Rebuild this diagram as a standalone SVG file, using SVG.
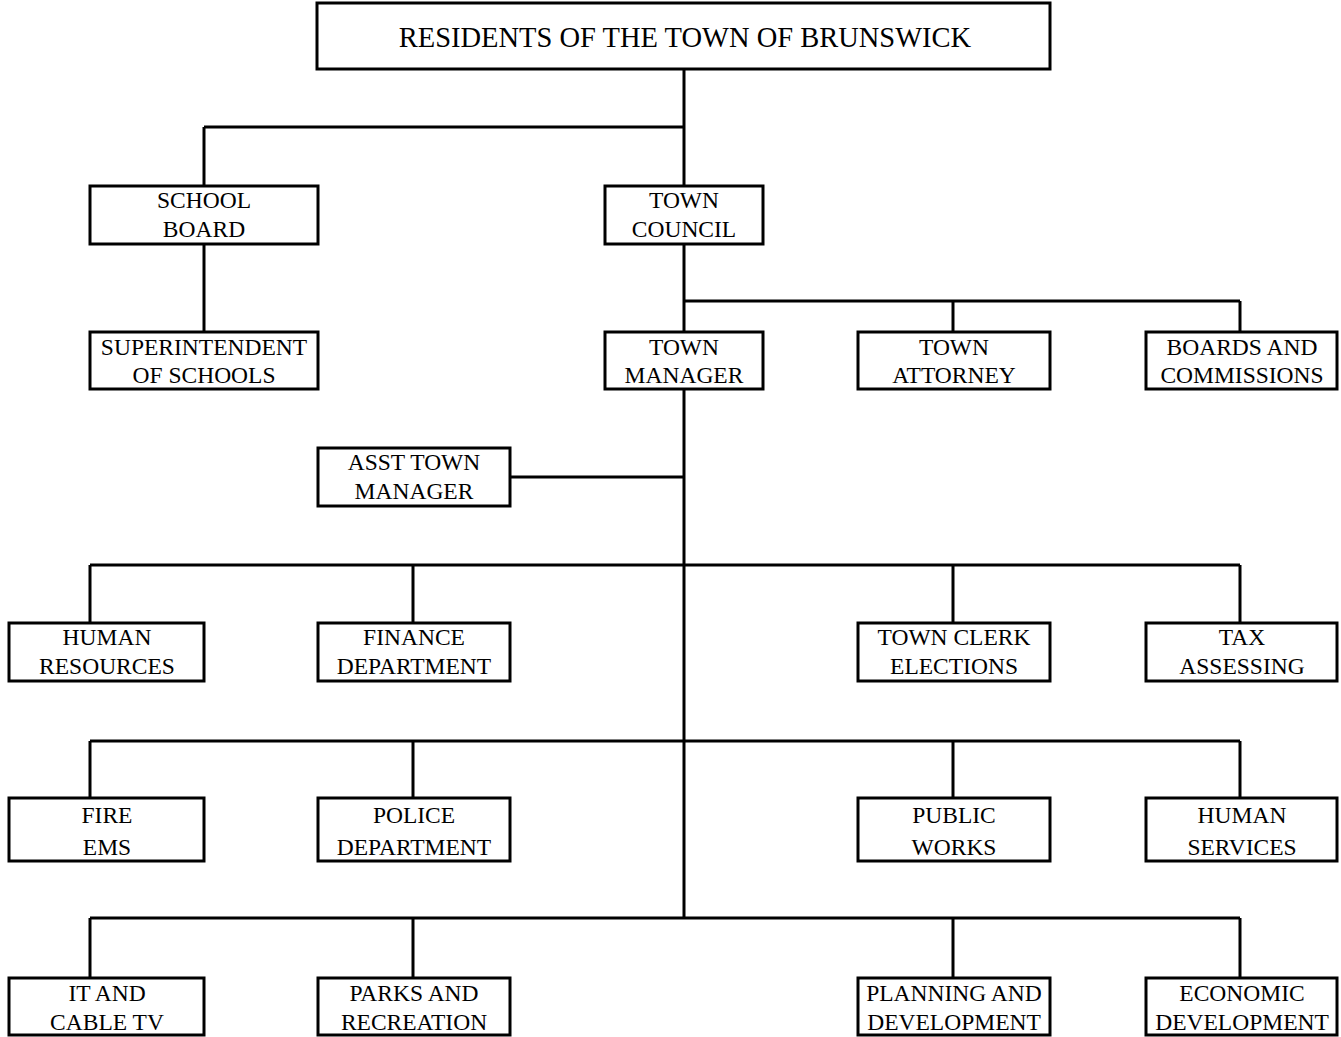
<svg xmlns="http://www.w3.org/2000/svg" width="1341" height="1037" viewBox="0 0 1341 1037">
<style>
.box{fill:#fff;stroke:#000;stroke-width:3}
.ln{fill:none;stroke:#000;stroke-width:3}
text{font-family:"Liberation Serif","Times New Roman",serif;font-size:23.5px;fill:#000;text-anchor:middle}
.title{font-size:28.5px}
</style>
<rect width="1341" height="1037" fill="#fff"/>
<g id="connectors" class="ln">
<path d="M684 69V918"/>
<path d="M204 127H684"/>
<path d="M204 127V186"/>
<path d="M204 244V332"/>
<path d="M684 301H1240"/>
<path d="M953 301V332"/>
<path d="M1240 301V332"/>
<path d="M510 477H684"/>
<path d="M90 565H1240"/>
<path d="M90 565V623M413 565V623M953 565V623M1240 565V623"/>
<path d="M90 741H1240"/>
<path d="M90 741V798M413 741V798M953 741V798M1240 741V798"/>
<path d="M90 918H1240"/>
<path d="M90 918V978M413 918V978M953 918V978M1240 918V978"/>
</g>
<g id="residents"><rect class="box" x="317" y="3" width="733" height="66"/><text class="title" x="685" y="47">RESIDENTS OF THE TOWN OF BRUNSWICK</text></g>
<g id="school-board"><rect class="box" x="90" y="186" width="228" height="58"/><text x="204" y="208">SCHOOL</text><text x="204" y="237">BOARD</text></g>
<g id="town-council"><rect class="box" x="605" y="186" width="158" height="58"/><text x="684" y="208">TOWN</text><text x="684" y="237">COUNCIL</text></g>
<g id="superintendent"><rect class="box" x="90" y="332" width="228" height="57"/><text x="204" y="355">SUPERINTENDENT</text><text x="204" y="383">OF SCHOOLS</text></g>
<g id="town-manager"><rect class="box" x="605" y="332" width="158" height="57"/><text x="684" y="355">TOWN</text><text x="684" y="383">MANAGER</text></g>
<g id="town-attorney"><rect class="box" x="858" y="332" width="192" height="57"/><text x="954" y="355">TOWN</text><text x="954" y="383">ATTORNEY</text></g>
<g id="boards"><rect class="box" x="1146" y="332" width="191" height="57"/><text x="1242" y="355">BOARDS AND</text><text x="1242" y="383">COMMISSIONS</text></g>
<g id="asst-manager"><rect class="box" x="318" y="448" width="192" height="58"/><text x="414" y="470">ASST TOWN</text><text x="414" y="499">MANAGER</text></g>
<g id="human-resources"><rect class="box" x="9" y="623" width="195" height="58"/><text x="107" y="645">HUMAN</text><text x="107" y="674">RESOURCES</text></g>
<g id="finance"><rect class="box" x="318" y="623" width="192" height="58"/><text x="414" y="645">FINANCE</text><text x="414" y="674">DEPARTMENT</text></g>
<g id="town-clerk"><rect class="box" x="858" y="623" width="192" height="58"/><text x="954" y="645">TOWN CLERK</text><text x="954" y="674">ELECTIONS</text></g>
<g id="tax"><rect class="box" x="1146" y="623" width="191" height="58"/><text x="1242" y="645">TAX</text><text x="1242" y="674">ASSESSING</text></g>
<g id="fire"><rect class="box" x="9" y="798" width="195" height="63"/><text x="107" y="823">FIRE</text><text x="107" y="855">EMS</text></g>
<g id="police"><rect class="box" x="318" y="798" width="192" height="63"/><text x="414" y="823">POLICE</text><text x="414" y="855">DEPARTMENT</text></g>
<g id="public-works"><rect class="box" x="858" y="798" width="192" height="63"/><text x="954" y="823">PUBLIC</text><text x="954" y="855">WORKS</text></g>
<g id="human-services"><rect class="box" x="1146" y="798" width="191" height="63"/><text x="1242" y="823">HUMAN</text><text x="1242" y="855">SERVICES</text></g>
<g id="it-cable"><rect class="box" x="9" y="978" width="195" height="57"/><text x="107" y="1001">IT AND</text><text x="107" y="1030">CABLE TV</text></g>
<g id="parks"><rect class="box" x="318" y="978" width="192" height="57"/><text x="414" y="1001">PARKS AND</text><text x="414" y="1030">RECREATION</text></g>
<g id="planning"><rect class="box" x="858" y="978" width="192" height="57"/><text x="954" y="1001">PLANNING AND</text><text x="954" y="1030">DEVELOPMENT</text></g>
<g id="economic"><rect class="box" x="1146" y="978" width="191" height="57"/><text x="1242" y="1001">ECONOMIC</text><text x="1242" y="1030">DEVELOPMENT</text></g>
</svg>
